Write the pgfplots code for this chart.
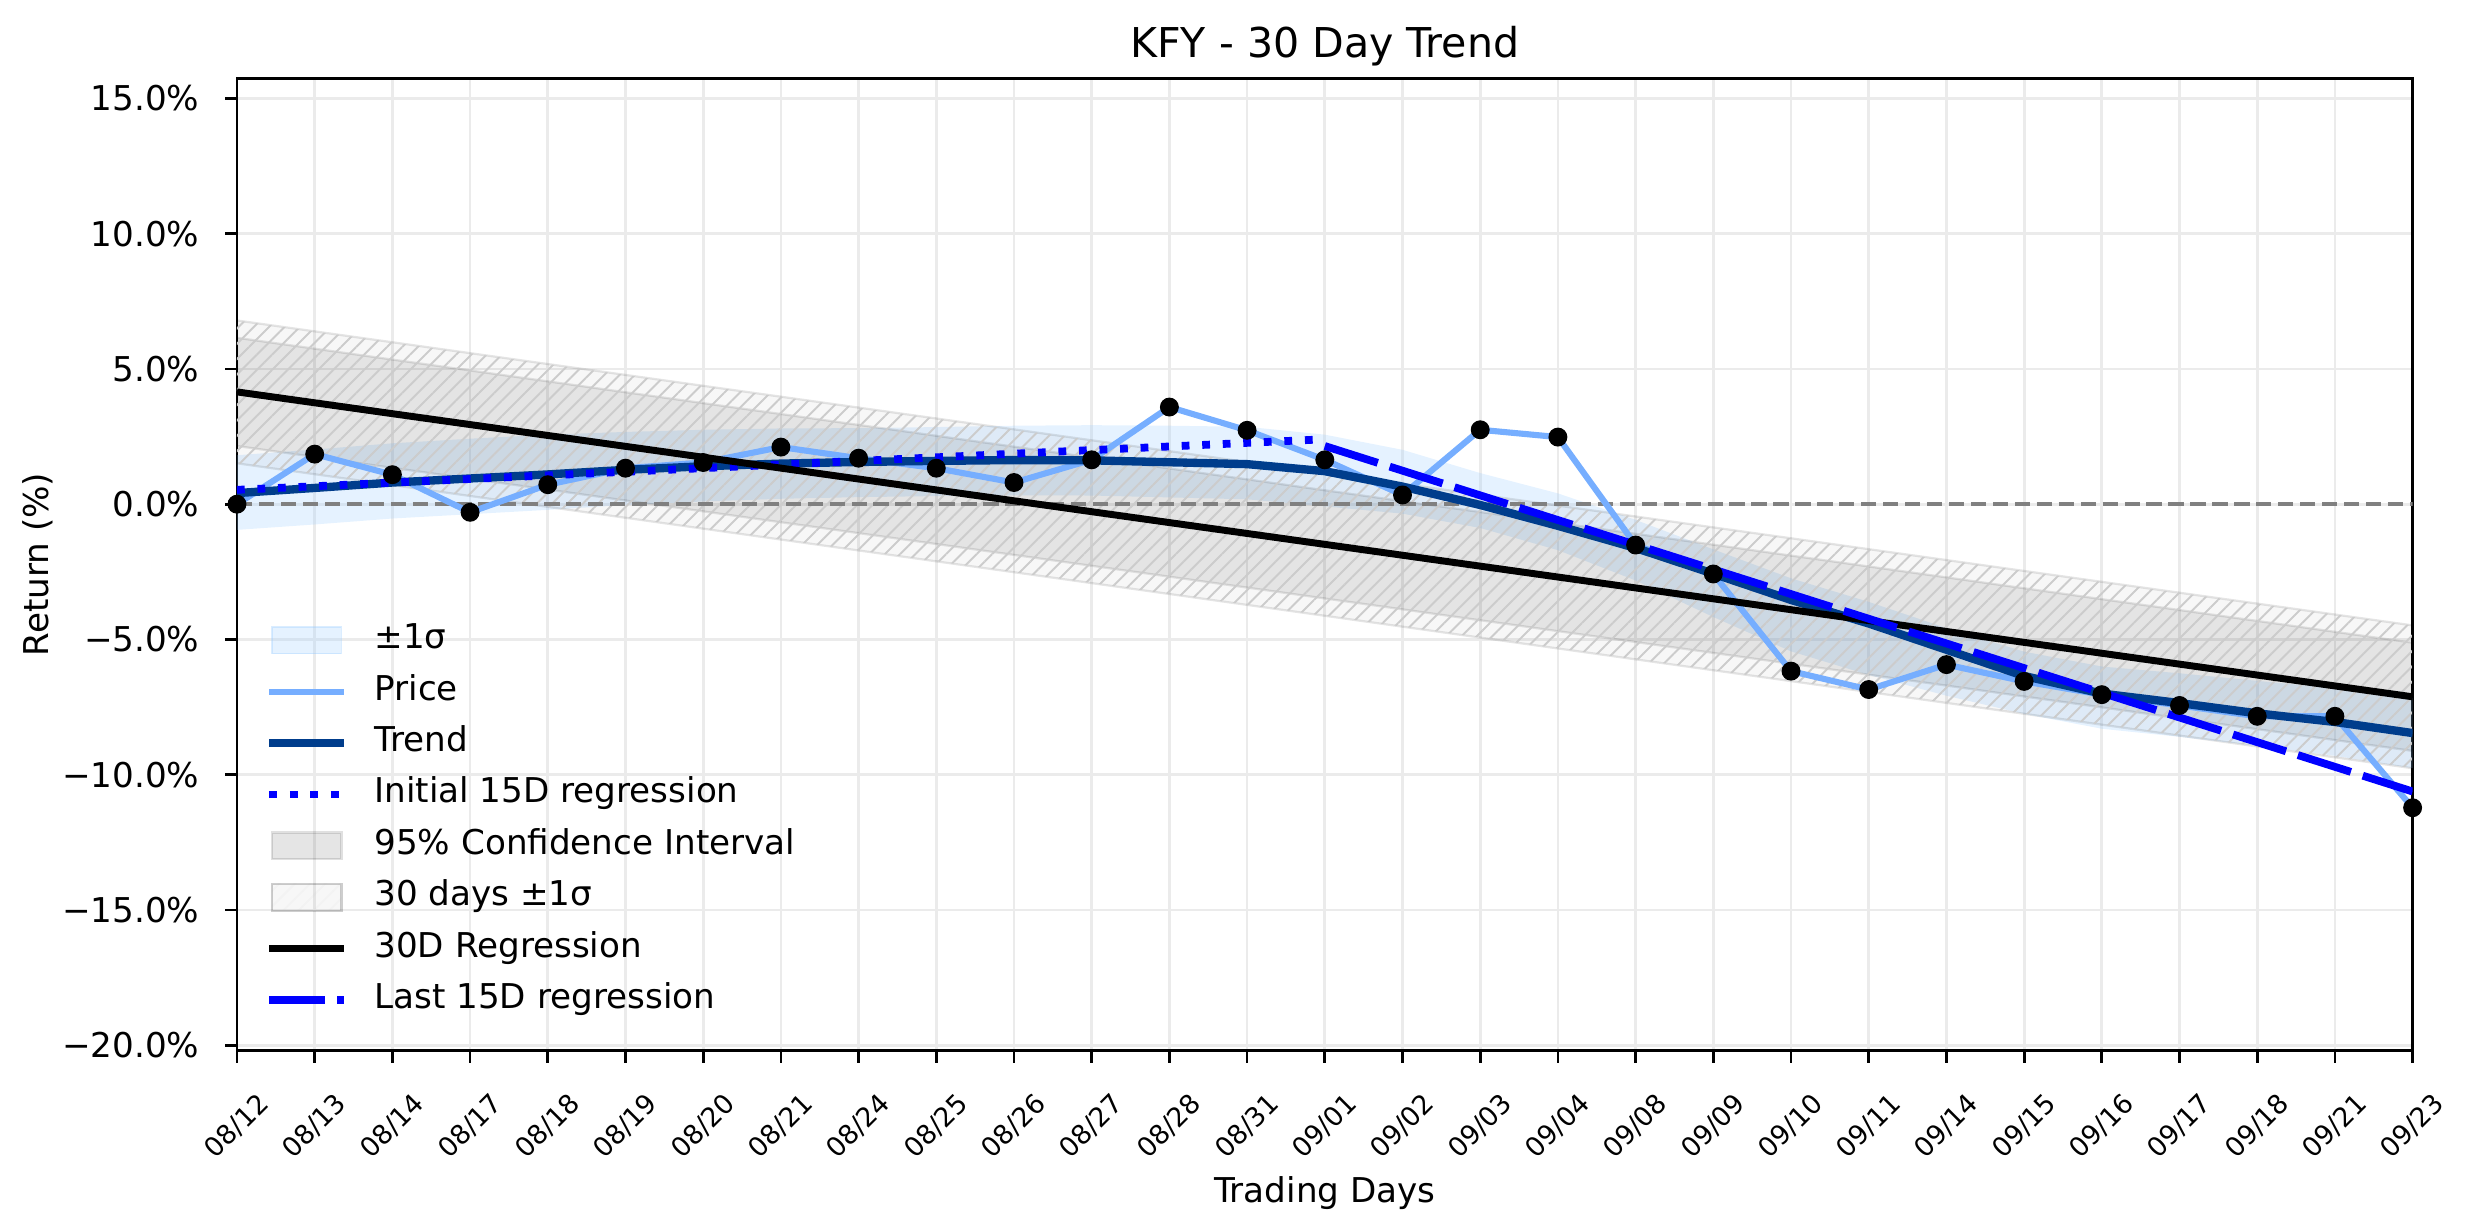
\documentclass[border=0pt]{standalone}
\usepackage{fontspec}
\setmainfont{DejaVu Sans}
\usepackage{pgfplots}
\pgfplotsset{compat=1.18}
\usepgfplotslibrary{fillbetween}
\usetikzlibrary{calc, patterns.meta}

\definecolor{pricecol}{RGB}{118,174,255}
\definecolor{trendcol}{RGB}{0,61,140}
\definecolor{sigcol}{RGB}{153,204,255}

\pgfplotsset{
  lineleg/.style={legend image code/.code={%
    \draw[##1] (0pt,0pt) -- (27pt,0pt);}},
  arealeg/.style={legend image code/.code={%
    \draw[##1] (1pt,-4.8pt) rectangle (26pt,4.8pt);}},
  hatchleg/.style={legend image code/.code={%
    \fill[black, fill opacity=0.03] (1pt,-4.8pt) rectangle (26pt,4.8pt);
    \draw[##1] (1pt,-4.8pt) rectangle (26pt,4.8pt);}},
}

\begin{document}
\begin{tikzpicture}
\begin{axis}[
  name=ax, set layers,
  scale only axis, width=783.1pt, height=350pt,
  xmin=0, xmax=28, ymin=-20.2, ymax=15.74,
  xtick={0,1,...,28},
  xticklabels={08/12,08/13,08/14,08/17,08/18,08/19,08/20,08/21,08/24,08/25,08/26,08/27,08/28,08/31,09/01,09/02,09/03,09/04,09/08,09/09,09/10,09/11,09/14,09/15,09/16,09/17,09/18,09/21,09/23},
  ytick={-20,-15,-10,-5,0,5,10,15},
  yticklabels={−20.0\%,−15.0\%,−10.0\%,−5.0\%,0.0\%,5.0\%,10.0\%,15.0\%},
  /pgf/number format/assume math mode=true,
  grid=major, major grid style={line width=1pt, color=black!8},
  axis line style={line width=1pt, black},
  tick align=outside, tick pos=left, major tick length=4.3pt,
  every tick/.style={black, line width=1pt},
  yticklabel style={font=\fontsize{12.3}{14}\selectfont, anchor=east, inner sep=0pt, xshift=-9pt},
  xticklabel style={font=\fontsize{9.6}{11}\selectfont, yshift=-23pt, rotate=45, anchor=center, inner sep=0pt},
  title={KFY - 30 Day Trend},
  every axis title/.style={at={(axis description cs:0.5,1)}, anchor=base, yshift=7.6pt, inner sep=0pt, font=\fontsize{14.8}{17}\selectfont},
  xlabel={Trading Days},
  every axis x label/.style={at={(axis description cs:0.5,0)}, anchor=base, yshift=-54.6pt, inner sep=0pt, font=\fontsize{12.3}{14}\selectfont},
  ylabel={Return (\%)},
  every axis y label/.style={at={(axis description cs:-0.0914,0.5)}, rotate=90, anchor=center, inner sep=0pt, font=\fontsize{12.3}{14}\selectfont},
  legend style={draw=none, fill=none, at={(axis description cs:0.0129,0.0349)}, anchor=south west,
    inner sep=0pt, outer sep=0pt, row sep=6.5pt, column sep=9.4pt, font=\fontsize{12.3}{14}\selectfont,
    nodes={inner sep=0pt, text height=9pt, text depth=3pt}},
  legend cell align=left,
]

% legend entries (matplotlib order)
\addlegendimage{arealeg, fill=sigcol, fill opacity=0.25, draw=sigcol, draw opacity=0.35}
\addlegendentry{±1σ}
\addlegendimage{lineleg, pricecol, line width=2.2pt}
\addlegendentry{Price}
\addlegendimage{lineleg, trendcol, line width=3pt}
\addlegendentry{Trend}
\addlegendimage{lineleg, blue, line width=2.8pt, dash pattern=on 2.8pt off 4.6pt}
\addlegendentry{Initial 15D regression}
\addlegendimage{arealeg, fill=black, fill opacity=0.1, draw=black, draw opacity=0.12, line width=0.8pt}
\addlegendentry{95\% Confidence Interval}
\addlegendimage{hatchleg, pattern={Lines[angle=45,distance=3.9pt,line width=0.7pt]}, pattern color=black!20, draw=black, draw opacity=0.1, line width=0.8pt}
\addlegendentry{30 days ±1σ}
\addlegendimage{lineleg, black, line width=2.5pt}
\addlegendentry{30D Regression}
\addlegendimage{lineleg, blue, line width=2.8pt, dash pattern=on 20pt off 4.5pt}
\addlegendentry{Last 15D regression}

% +-1 sigma band round the trend
\addplot[name path=su, draw=none, forget plot] coordinates {
(0,1.81) (1,2.02) (2,2.25) (3,2.42) (4,2.57) (5,2.67) (6,2.75) (7,2.80) (8,2.81) (9,2.85)
(10,2.90) (11,2.92) (12,2.90) (13,2.86) (14,2.57) (15,2.01) (16,1.15) (17,0.40) (18,-0.58)
(19,-1.67) (20,-2.74) (21,-3.61) (22,-4.58) (23,-5.45) (24,-6.00) (25,-6.25) (26,-6.53)
(27,-6.80) (28,-7.16)};
\addplot[name path=sl, draw=none, forget plot] coordinates {
(0,-0.95) (1,-0.75) (2,-0.53) (3,-0.37) (4,-0.21) (5,-0.03) (6,0.10) (7,0.20) (8,0.26) (9,0.30)
(10,0.33) (11,0.32) (12,0.25) (13,0.18) (14,-0.08) (15,-0.35) (16,-0.88) (17,-1.70) (18,-2.82)
(19,-4.17) (20,-5.44) (21,-6.31) (22,-7.08) (23,-7.75) (24,-8.30) (25,-8.60) (26,-8.93)
(27,-9.30) (28,-9.76)};
\addplot[fill=sigcol, fill opacity=0.25, draw=none, forget plot] fill between[of=su and sl];

% 95% confidence interval of the 30D regression
\addplot[name path=cu, draw=none, forget plot] coordinates {(0,6.15) (28,-5.12)};
\addplot[name path=cl, draw=none, forget plot] coordinates {(0,2.15) (28,-9.12)};
\addplot[fill=black, fill opacity=0.08, draw=black, draw opacity=0.1, line width=0.8pt, forget plot] fill between[of=cu and cl];

% 30 days +-1 sigma (hatched)
\addplot[name path=hu, draw=none, forget plot] coordinates {(0,6.79) (28,-4.48)};
\addplot[name path=hl, draw=none, forget plot] coordinates {(0,1.51) (28,-9.76)};
\addplot[fill=black, fill opacity=0.03, draw=black, draw opacity=0.1, line width=0.8pt, forget plot] fill between[of=hu and hl];
\addplot[pattern={Lines[angle=45,distance=3.9pt,line width=0.7pt]}, pattern color=black!20, draw=none, forget plot] fill between[of=hu and hl];

% zero line
\addplot[black!50, line width=1.5pt, dash pattern=on 5.5pt off 2.4pt, forget plot] coordinates {(0,0) (28,0)};

% price
\addplot[pricecol, line width=2.2pt, forget plot] coordinates {
(0,0.00) (1,1.85) (2,1.09) (3,-0.30) (4,0.72) (5,1.33) (6,1.54) (7,2.11) (8,1.70) (9,1.33)
(10,0.80) (11,1.64) (12,3.59) (13,2.73) (14,1.64) (15,0.34) (16,2.75) (17,2.48) (18,-1.51)
(19,-2.58) (20,-6.17) (21,-6.85) (22,-5.93) (23,-6.55) (24,-7.04) (25,-7.44) (26,-7.84)
(27,-7.84) (28,-11.22)};

% trend
\addplot[trendcol, line width=3pt, forget plot] coordinates {
(0,0.41) (1,0.60) (2,0.80) (3,0.95) (4,1.10) (5,1.27) (6,1.40) (7,1.50) (8,1.56) (9,1.60)
(10,1.63) (11,1.62) (12,1.55) (13,1.48) (14,1.22) (15,0.65) (16,-0.03) (17,-0.80) (18,-1.62)
(19,-2.57) (20,-3.54) (21,-4.41) (22,-5.38) (23,-6.35) (24,-7.00) (25,-7.35) (26,-7.73)
(27,-8.05) (28,-8.46)};

% initial 15D regression
\addplot[blue, line width=2.8pt, dash pattern=on 2.8pt off 4.6pt, forget plot] coordinates {(0,0.53) (14,2.40)};

% 30D regression
\addplot[black, line width=2.5pt, forget plot] coordinates {(0,4.15) (28,-7.12)};

% last 15D regression
\addplot[blue, line width=2.8pt, dash pattern=on 20pt off 4.5pt, forget plot] coordinates {(14,2.15) (28,-10.62)};

% price points
\addplot[only marks, mark=*, mark size=3.2pt, black, forget plot] coordinates {
(0,0.00) (1,1.85) (2,1.09) (3,-0.30) (4,0.72) (5,1.33) (6,1.54) (7,2.11) (8,1.70) (9,1.33)
(10,0.80) (11,1.64) (12,3.59) (13,2.73) (14,1.64) (15,0.34) (16,2.75) (17,2.48) (18,-1.51)
(19,-2.58) (20,-6.17) (21,-6.85) (22,-5.93) (23,-6.55) (24,-7.04) (25,-7.44) (26,-7.84)
(27,-7.84) (28,-11.22)};

\end{axis}
\pgfresetboundingbox
\path[use as bounding box] ($(ax.south west)+(-85.3pt,-62.5pt)$) rectangle ($(ax.north east)+(22.1pt,28.2pt)$);
\end{tikzpicture}
\end{document}
